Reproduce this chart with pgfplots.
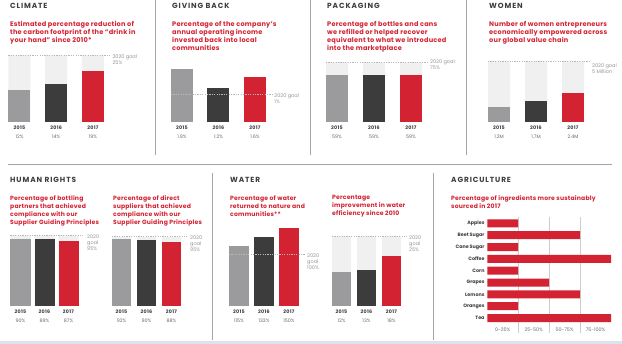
\documentclass[border=0pt]{standalone}
\usepackage{fontspec}
\setmainfont{Poppins}
\newfontfamily\titlefont[LetterSpace=12]{Poppins}
\newfontfamily\subfont[LetterSpace=3]{Poppins}
\newfontfamily\yearfont[LetterSpace=6]{Poppins}
\usepackage{pgfplots}
\pgfplotsset{compat=1.18}
\definecolor{cred}{RGB}{211,35,50}
\definecolor{cgray}{RGB}{155,155,157}
\definecolor{cdark}{RGB}{60,60,60}
\definecolor{cbg}{RGB}{240,240,240}
\definecolor{ctitle}{RGB}{62,62,62}
\definecolor{cval}{RGB}{105,105,105}
\definecolor{cgoal}{RGB}{150,150,150}
\definecolor{cdash}{RGB}{185,185,185}
\definecolor{csep}{RGB}{165,165,165}
\definecolor{cband}{RGB}{220,228,234}
\definecolor{cgrid}{RGB}{205,205,205}
\newcommand\yr[1]{{\yearfont\bfseries\color{ctitle}#1}}
\newcommand\vl[1]{{\color{cval}#1}}
\pgfplotsset{
  infobar/.style={scale only axis, anchor=south west, clip=false,
    axis line style={draw=none}, tick style={draw=none}, ytick=\empty,
    xtick={0,1,2}, xmin=-0.5, xmax=2.5, ymin=0,
    xticklabel style={align=center, inner sep=0pt, yshift=-4pt,
      font=\fontsize{4.8}{9}\selectfont}},
  lowrow/.style={xticklabel style={font=\fontsize{4.8}{8.5}\selectfont}},
}
\tikzset{
  goaldash/.style={cdash, line width=0.5pt, dash pattern=on 1.2pt off 1.2pt},
  ttl/.style={anchor=west, inner sep=0pt, text=ctitle, font=\titlefont\bfseries\fontsize{7.4}{8}\selectfont},
  sub/.style={anchor=north west, inner sep=0pt, align=left, text=cred, font=\subfont\bfseries\fontsize{6.6}{8}\selectfont},
  subb/.style={anchor=north west, inner sep=0pt, align=left, text=cred, font=\subfont\bfseries\fontsize{6.1}{8}\selectfont},
  goal/.style={anchor=north west, inner sep=0pt, align=left, text=cgoal, font=\fontsize{5}{6.5}\selectfont},
  goalb/.style={anchor=north west, inner sep=0pt, align=left, text=cgoal, font=\fontsize{5}{6}\selectfont},
}
\begin{document}
\begin{tikzpicture}
\fill[white] (0,0) rectangle (622pt,344pt);
% separators
\draw[csep, line width=0.7pt] (155.5pt,344pt) -- (155.5pt,189pt);
\draw[csep, line width=0.7pt] (310.7pt,344pt) -- (310.7pt,189pt);
\draw[csep, line width=0.7pt] (466.5pt,344pt) -- (466.5pt,189pt);
\draw[csep, line width=0.7pt] (8pt,180pt) -- (612pt,180pt);
\draw[csep, line width=0.7pt] (212.7pt,171.3pt) -- (212.7pt,4pt);
\draw[csep, line width=0.7pt] (433.3pt,171.3pt) -- (433.3pt,4pt);
\fill[cband] (0,0) rectangle (622pt,3.3pt);

% ---------- titles and subtitles ----------
\node[ttl] at (10pt,338pt) {CLIMATE};
\node[ttl] at (172pt,338pt) {GIVING BACK};
\node[ttl] at (327pt,338pt) {PACKAGING};
\node[ttl] at (489pt,338pt) {WOMEN};
\node[sub] at (10pt,323pt) {Estimated percentage reduction of\\the carbon footprint of the “drink in\\your hand” since 2010*};
\node[sub] at (172pt,323pt) {Percentage of the company’s\\annual operating income\\invested back into local\\communities};
\node[sub] at (327pt,323pt) {Percentage of bottles and cans\\we refilled or helped recover\\equivalent to what we introduced\\into the marketplace};
\node[sub] at (489pt,323pt) {Number of women entrepreneurs\\economically empowered across\\our global value chain};

\node[ttl] at (10pt,164pt) {HUMAN RIGHTS};
\node[ttl] at (230pt,164pt) {WATER};
\node[ttl] at (451pt,164pt) {AGRICULTURE};
\node[subb] at (10pt,148.8pt) {Percentage of bottling\\partners that achieved\\compliance with our\\Supplier Guiding Principles};
\node[subb] at (113pt,148.8pt) {Percentage of direct\\suppliers that achieved\\compliance with our\\Supplier Guiding Principles};
\node[subb] at (230pt,148.8pt) {Percentage of water\\returned to nature and\\communities**};
\node[subb] at (332pt,148.8pt) {Percentage\\improvement in water\\efficiency since 2010};
\node[subb] at (451pt,148.8pt) {Percentage of ingredients more sustainably\\sourced in 2017};

% ---------- CLIMATE ----------
\begin{axis}[infobar, at={(1.1pt,222pt)}, width=110.25pt, height=67pt, ymax=25,
  xticklabels={{\yr{2015}\\\vl{12\%}},{\yr{2016}\\\vl{14\%}},{\yr{2017}\\\vl{19\%}}}]
\addplot[ybar, bar width=22pt, bar shift=0pt, fill=cbg, draw=none] coordinates {(0,25) (1,25) (2,25)};
\addplot[ybar, bar width=22pt, bar shift=0pt, fill=cgray, draw=none] coordinates {(0,12)};
\addplot[ybar, bar width=22pt, bar shift=0pt, fill=cdark, draw=none] coordinates {(1,14)};
\addplot[ybar, bar width=22pt, bar shift=0pt, fill=cred, draw=none] coordinates {(2,19)};
\draw[goaldash] (axis cs:-0.3,25) -- (axis cs:2.46,25);
\node[goal, xshift=1pt, yshift=0.8pt] at (axis cs:2.5,25) {2020 goal\\25\%};
\end{axis}

% ---------- GIVING BACK ----------
\begin{axis}[infobar, at={(163.75pt,222pt)}, width=109.5pt, height=67pt, ymax=2.4,
  xticklabels={{\yr{2015}\\\vl{1.9\%}},{\yr{2016}\\\vl{1.2\%}},{\yr{2017}\\\vl{1.6\%}}}]
\addplot[ybar, bar width=22pt, bar shift=0pt, fill=cgray, draw=none] coordinates {(0,1.9)};
\addplot[ybar, bar width=22pt, bar shift=0pt, fill=cdark, draw=none] coordinates {(1,1.2)};
\addplot[ybar, bar width=22pt, bar shift=0pt, fill=cred, draw=none] coordinates {(2,1.6)};
\draw[goaldash] (axis cs:-0.3,1) -- (axis cs:2.47,1);
\node[goal, xshift=1pt, yshift=0.8pt] at (axis cs:2.5,1) {2020 goal\\1\%};
\end{axis}

% ---------- PACKAGING ----------
\begin{axis}[infobar, at={(318.5pt,222pt)}, width=111pt, height=60pt, ymax=75,
  xticklabels={{\yr{2015}\\\vl{59\%}},{\yr{2016}\\\vl{59\%}},{\yr{2017}\\\vl{59\%}}}]
\addplot[ybar, bar width=22pt, bar shift=0pt, fill=cbg, draw=none] coordinates {(0,75) (1,75) (2,75)};
\addplot[ybar, bar width=22pt, bar shift=0pt, fill=cgray, draw=none] coordinates {(0,59)};
\addplot[ybar, bar width=22pt, bar shift=0pt, fill=cdark, draw=none] coordinates {(1,59)};
\addplot[ybar, bar width=22pt, bar shift=0pt, fill=cred, draw=none] coordinates {(2,59)};
\draw[goaldash] (axis cs:-0.3,75) -- (axis cs:2.46,75);
\node[goal, xshift=0.5pt, yshift=2.8pt] at (axis cs:2.5,75) {2020 goal\\75\%};
\end{axis}

% ---------- WOMEN ----------
\begin{axis}[infobar, at={(480.5pt,222pt)}, width=111pt, height=61pt, ymax=5,
  xticklabels={{\yr{2015}\\\vl{1.2M}},{\yr{2016}\\\vl{1.7M}},{\yr{2017}\\\vl{2.4M}}}]
\addplot[ybar, bar width=22pt, bar shift=0pt, fill=cbg, draw=none] coordinates {(0,5) (1,5) (2,5)};
\addplot[ybar, bar width=22pt, bar shift=0pt, fill=cgray, draw=none] coordinates {(0,1.2)};
\addplot[ybar, bar width=22pt, bar shift=0pt, fill=cdark, draw=none] coordinates {(1,1.7)};
\addplot[ybar, bar width=22pt, bar shift=0pt, fill=cred, draw=none] coordinates {(2,2.4)};
\draw[goaldash] (axis cs:-0.3,5) -- (axis cs:2.46,5);
\node[goal, xshift=0.5pt, yshift=-2.2pt] at (axis cs:2.5,5) {2020 goal\\5 Million};
\end{axis}

% ---------- HUMAN RIGHTS 1 ----------
\begin{axis}[infobar, lowrow, at={(8.5pt,38pt)}, width=72pt, height=71pt, ymax=95,
  xticklabels={{\yr{2015}\\\vl{90\%}},{\yr{2016}\\\vl{89\%}},{\yr{2017}\\\vl{87\%}}}]
\addplot[ybar, bar width=20pt, bar shift=0pt, fill=cbg, draw=none] coordinates {(0,95) (1,95) (2,95)};
\addplot[ybar, bar width=20pt, bar shift=0pt, fill=cgray, draw=none] coordinates {(0,90)};
\addplot[ybar, bar width=20pt, bar shift=0pt, fill=cdark, draw=none] coordinates {(1,89)};
\addplot[ybar, bar width=20pt, bar shift=0pt, fill=cred, draw=none] coordinates {(2,87)};
\draw[goaldash] (axis cs:-0.42,95) -- (axis cs:2.6,95);
\node[goalb, xshift=6.5pt, yshift=0.7pt] at (axis cs:2.5,95) {2020\\goal\\95\%};
\end{axis}

% ---------- HUMAN RIGHTS 2 ----------
\begin{axis}[infobar, lowrow, at={(109pt,38pt)}, width=75pt, height=69.3pt, ymax=95,
  xticklabels={{\yr{2015}\\\vl{92\%}},{\yr{2016}\\\vl{90\%}},{\yr{2017}\\\vl{88\%}}}]
\addplot[ybar, bar width=19pt, bar shift=0pt, fill=cbg, draw=none] coordinates {(0,95) (1,95) (2,95)};
\addplot[ybar, bar width=19pt, bar shift=0pt, fill=cgray, draw=none] coordinates {(0,92)};
\addplot[ybar, bar width=19pt, bar shift=0pt, fill=cdark, draw=none] coordinates {(1,90)};
\addplot[ybar, bar width=19pt, bar shift=0pt, fill=cred, draw=none] coordinates {(2,88)};
\draw[goaldash] (axis cs:-0.38,95) -- (axis cs:2.62,95);
\node[goalb, xshift=6pt, yshift=0.7pt] at (axis cs:2.5,95) {2020\\goal\\95\%};
\end{axis}

% ---------- WATER 1 ----------
\begin{axis}[infobar, lowrow, at={(226.5pt,38pt)}, width=75pt, height=78pt, ymax=150,
  xticklabels={{\yr{2015}\\\vl{115\%}},{\yr{2016}\\\vl{133\%}},{\yr{2017}\\\vl{150\%}}}]
\addplot[ybar, bar width=20pt, bar shift=0pt, fill=cgray, draw=none] coordinates {(0,115)};
\addplot[ybar, bar width=20pt, bar shift=0pt, fill=cdark, draw=none] coordinates {(1,133)};
\addplot[ybar, bar width=20pt, bar shift=0pt, fill=cred, draw=none] coordinates {(2,150)};
\draw[goaldash] (axis cs:-0.4,100) -- (axis cs:2.64,100);
\node[goalb, xshift=5.5pt, yshift=0.7pt] at (axis cs:2.5,100) {2020\\goal\\100\%};
\end{axis}

% ---------- WATER 2 ----------
\begin{axis}[infobar, lowrow, at={(329pt,38pt)}, width=75pt, height=70pt, ymax=25,
  xticklabels={{\yr{2015}\\\vl{12\%}},{\yr{2016}\\\vl{13\%}},{\yr{2017}\\\vl{18\%}}}]
\addplot[ybar, bar width=19pt, bar shift=0pt, fill=cbg, draw=none] coordinates {(0,25) (1,25) (2,25)};
\addplot[ybar, bar width=19pt, bar shift=0pt, fill=cgray, draw=none] coordinates {(0,12)};
\addplot[ybar, bar width=19pt, bar shift=0pt, fill=cdark, draw=none] coordinates {(1,13)};
\addplot[ybar, bar width=19pt, bar shift=0pt, fill=cred, draw=none] coordinates {(2,18)};
\draw[goaldash] (axis cs:-0.38,25) -- (axis cs:2.62,25);
\node[goalb, xshift=5pt, yshift=0.7pt] at (axis cs:2.5,25) {2020\\goal\\25\%};
\end{axis}

% ---------- AGRICULTURE ----------
\begin{axis}[scale only axis, anchor=south west, at={(487.3pt,11pt)}, width=123.7pt, height=115.6pt,
  clip=false, axis line style={draw=none}, tick style={draw=none},
  xmin=0, xmax=4, ymin=-0.5, ymax=9.26, y dir=reverse,
  xtick={0.5,1.5,2.5,3.5}, xticklabels={0-25\%,25-50\%,50-75\%,75-100\%},
  minor xtick={1,2,3}, xminorgrids=true, minor grid style={cgrid, line width=0.5pt},
  xticklabel style={inner sep=0pt, yshift=5.2pt, text=cval, font=\fontsize{4.8}{6}\selectfont},
  ytick={0,...,8},
  yticklabels={Apples,Beet Sugar,Cane Sugar,Coffee,Corn,Grapes,Lemons,Oranges,Tea},
  yticklabel style={inner sep=0pt, xshift=-2.6pt, text=ctitle, font=\bfseries\fontsize{4.8}{6}\selectfont}]
\addplot[xbar, bar width=8pt, bar shift=0pt, fill=cred, draw=none] coordinates {
 (1,0) (3,1) (1,2) (4,3) (1,4) (2,5) (3,6) (1,7) (4,8)};
\end{axis}

\pgfresetboundingbox
\useasboundingbox (0,0) rectangle (622pt,344pt);
\end{tikzpicture}
\end{document}
